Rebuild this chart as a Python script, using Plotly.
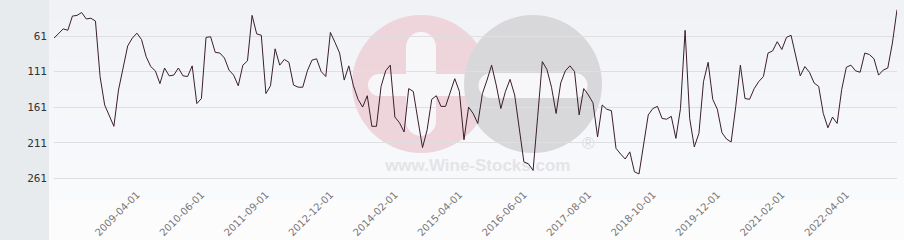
import pandas as pd
import plotly.graph_objects as go

# ---- data -------------------------------------------------------------
# monthly observation dates (two months absent from the series)
all_months = pd.date_range("2007-10-01", "2023-03-01", freq="MS")
missing = ["2011-01-01", "2012-05-01"]
dates = [d.strftime("%Y-%m-%d") for d in all_months if d.strftime("%Y-%m-%d") not in missing]

ranks = [
    64, 57, 51, 53, 33, 32, 28, 37, 36, 40,
    118, 158, 172, 188, 137, 104, 75, 64, 57, 66,
    90, 104, 110, 128, 106, 117, 116, 106, 117, 118,
    103, 156, 149, 63, 62, 84, 85, 92, 109, 116,
    131, 102, 96, 32, 58, 60, 142, 131, 79, 102,
    94, 98, 130, 133, 133, 110, 95, 93, 111, 118,
    56, 70, 85, 123, 103, 131, 150, 161, 145, 188,
    188, 132, 110, 102, 175, 183, 196, 135, 139, 179,
    218, 193, 150, 145, 160, 160, 142, 121, 139, 207,
    161, 170, 184, 142, 123, 102, 130, 163, 139, 122,
    144, 191, 238, 241, 250, 174, 97, 108, 133, 170,
    127, 110, 103, 111, 172, 135, 144, 155, 203, 158,
    164, 166, 219, 227, 234, 224, 252, 255, 212, 172,
    163, 160, 177, 178, 174, 205, 163, 53, 177, 217,
    198, 125, 98, 150, 164, 197, 206, 210, 160, 102,
    149, 150, 135, 125, 118, 85, 82, 69, 80, 63,
    60, 89, 117, 104, 112, 127, 132, 170, 190, 175,
    184, 136, 105, 102, 110, 112, 85, 87, 93, 116,
    109, 106, 71, 24,
]

x_tick_labels = ["2009-04-01", "2010-06-01", "2011-09-01", "2012-12-01",
                 "2014-02-01", "2015-04-01", "2016-06-01", "2017-08-01",
                 "2018-10-01", "2019-12-01", "2021-02-01", "2022-04-01"]
y_ticks = [61, 111, 161, 211, 261]

# ---- layout geometry ---------------------------------------------------
W, H = 904, 240
ML, MR, MT, MB = 54, 7, 0, 54
PW, PH = W - ML - MR, H - MT - MB
Y_TOP = 61 - 36 * 50 / 35.55
Y_BOT = 61 + (PH - 36) * 50 / 35.55


def fx(px):
    return (px - ML) / PW


def fy(py):
    return 1 - (py - MT) / PH


def py2val(py):
    return Y_TOP + (py - MT) / PH * (Y_BOT - Y_TOP)


fig = go.Figure()
# watermark text (drawn beneath the line)
fig.add_trace(go.Scatter(
    x=[dates[92], dates[116]], y=[py2val(167), py2val(145)],
    mode="text", text=["<b>www.Wine-Stocks.com</b>", "®"],
    textfont=dict(family="Liberation Sans", size=17, color=["#e4e4e7", "#dcdcdf"]),
    hoverinfo="skip", showlegend=False,
))
fig.add_trace(go.Scatter(
    x=dates, y=ranks, mode="lines",
    line=dict(color="#3b1e2c", width=1),
    hoverinfo="x+y", showlegend=False,
))

shapes = []
# vertical background gradient
top_c = (241, 242, 246)
bot_c = (249, 250, 252)
n = 20
for k in range(n):
    t = k / (n - 1)
    c = tuple(int(round(top_c[j] + (bot_c[j] - top_c[j]) * t)) for j in range(3))
    y0 = k * 200 / n
    y1 = (k + 1) * 200 / n
    shapes.append(dict(type="rect", xref="paper", yref="paper",
                       x0=fx(0), x1=fx(W), y0=fy(y1), y1=fy(y0),
                       fillcolor="rgb(%d,%d,%d)" % c, line=dict(width=0), layer="below"))
shapes.append(dict(type="rect", xref="paper", yref="paper",
                   x0=fx(0), x1=fx(W), y0=fy(H), y1=fy(200),
                   fillcolor="#fcfcfd", line=dict(width=0), layer="below"))
# left grey panel
shapes.append(dict(type="rect", xref="paper", yref="paper",
                   x0=fx(0), x1=fx(49), y0=fy(H), y1=fy(0),
                   fillcolor="#e8ebee", line=dict(width=0), layer="below"))


def circ(cx, cy, r, col):
    shapes.append(dict(type="circle", xref="paper", yref="paper",
                       x0=fx(cx - r), x1=fx(cx + r), y0=fy(cy + r), y1=fy(cy - r),
                       fillcolor=col, line=dict(width=0), layer="below"))


def rect(x0, y0, x1, y1, col):
    shapes.append(dict(type="rect", xref="paper", yref="paper",
                       x0=fx(x0), x1=fx(x1), y0=fy(y1), y1=fy(y0),
                       fillcolor=col, line=dict(width=0), layer="below"))


PINK, GREY, WH = "#eed5dc", "#d8d8da", "#f7f7fa"
circ(421, 84, 69, PINK)
# plus sign
rect(406, 47, 436, 121, WH)
circ(421, 47, 15, WH)
circ(421, 121, 15, WH)
rect(379, 74, 463, 96, WH)
circ(379, 85, 11, WH)
circ(463, 85, 11, WH)
circ(533, 84, 69, GREY)
# minus sign
rect(491, 73, 575, 98, WH)
circ(491, 85.5, 12.5, WH)
circ(575, 85.5, 12.5, WH)

fig.update_layout(
    width=W, height=H,
    margin=dict(l=ML, r=MR, t=MT, b=MB),
    paper_bgcolor="#f7f8fa", plot_bgcolor="rgba(0,0,0,0)",
    shapes=shapes,
    xaxis=dict(type="category", range=[0, len(dates) - 1],
               categoryorder="array", categoryarray=dates,
               tickmode="array", tickvals=x_tick_labels, ticktext=x_tick_labels,
               tickangle=-45, showgrid=False, zeroline=False, showline=False,
               ticks="", tickfont=dict(family="DejaVu Sans", size=10, color="#777777")),
    yaxis=dict(range=[Y_BOT, Y_TOP],
               tickmode="array", tickvals=y_ticks,
               showgrid=True, gridcolor="#dfdfe1", gridwidth=1,
               zeroline=False, showline=False, ticks="", ticklabelstandoff=6,
               tickfont=dict(family="DejaVu Sans Mono", size=11, color="#333333")),
)

fig.write_html("out.html")
